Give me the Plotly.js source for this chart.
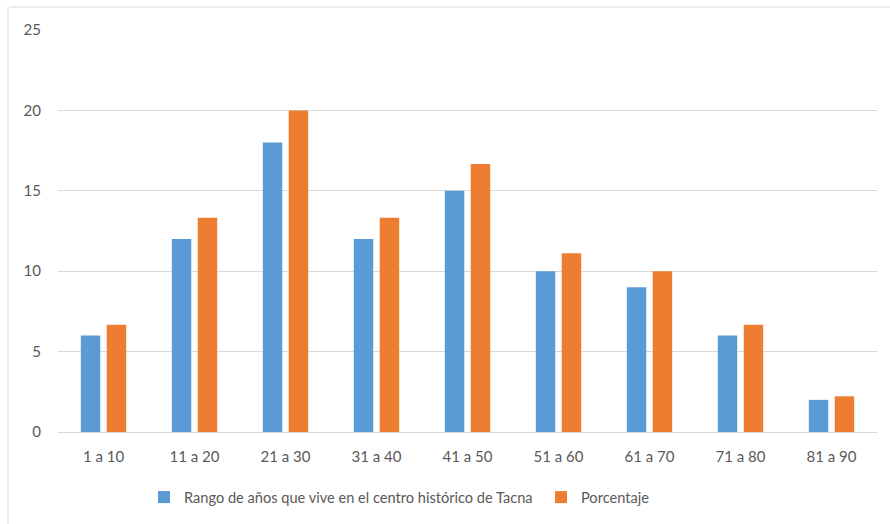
<!DOCTYPE html>
<html>
<head>
<meta charset="utf-8">
<script src="https://cdn.plot.ly/plotly-3.0.1.min.js"></script>
<style>html,body{margin:0;padding:0;background:#fff;}#chart{width:890px;height:524px;}</style>
</head>
<body>
<div id="chart"></div>
<script>
const categories = ["1 a 10","11 a 20","21 a 30","31 a 40","41 a 50","51 a 60","61 a 70","71 a 80","81 a 90"];
const rangoValues = [6,12,18,12,15,10,9,6,2];
const porcentajeValues = [6.67,13.33,20,13.33,16.67,11.11,10,6.67,2.22];
const yTickValues = [0,5,10,15,20,25];
const seriesNames = ["Rango de años que vive en el centro histórico de Tacna","Porcentaje"];

const font = {family: "Lato, 'Open Sans', sans-serif", size: 15, color: "#595959"};
const legendFont = {family: "Lato, 'Open Sans', sans-serif", size: 14.6, color: "#595959"};

const traces = [
  {type:"bar", name: seriesNames[0], x: categories, y: rangoValues, marker:{color:"#5B9BD5"}, hoverinfo:"x+y"},
  {type:"bar", name: seriesNames[1], x: categories, y: porcentajeValues, marker:{color:"#ED7D31"}, hoverinfo:"x+y"}
];

const layout = {
  width: 890, height: 524,
  margin: {l:58, r:13, t:30, b:92, pad:0, autoexpand:false},
  paper_bgcolor:"#fff", plot_bgcolor:"#fff",
  font: font,
  barmode:"group", bargap:0.43, bargroupgap:0.25,
  showlegend:true,
  legend:{orientation:"h", x:0.105, xanchor:"left", y:-0.162, yanchor:"middle", font:legendFont, entrywidth:352, entrywidthmode:"pixels", traceorder:"normal"},
  xaxis:{type:"category", showgrid:false, zeroline:false, showline:false, ticks:"", tickfont:font, ticklabelstandoff:14},
  yaxis:{range:[0,25], tickvals:yTickValues, showgrid:true, gridcolor:"#D9D9D9", gridwidth:1, zeroline:true, zerolinecolor:"#D9D9D9", zerolinewidth:1, showline:false, ticks:"", tickfont:font, ticklabelstandoff:16, fixedrange:true},
  shapes:[
    {type:"line", xref:"paper", yref:"paper", x0:-0.0586, x1:1.1, y0:1.0572, y1:1.0572, line:{color:"#D9D9D9", width:1}},
    {type:"line", xref:"paper", yref:"paper", x0:-0.0610, x1:-0.0610, y0:1.0572, y1:-0.3, line:{color:"#D9D9D9", width:1}}
  ]
};

Plotly.newPlot("chart", traces, layout, {displayModeBar:false, staticPlot:true});
</script>
</body>
</html>
